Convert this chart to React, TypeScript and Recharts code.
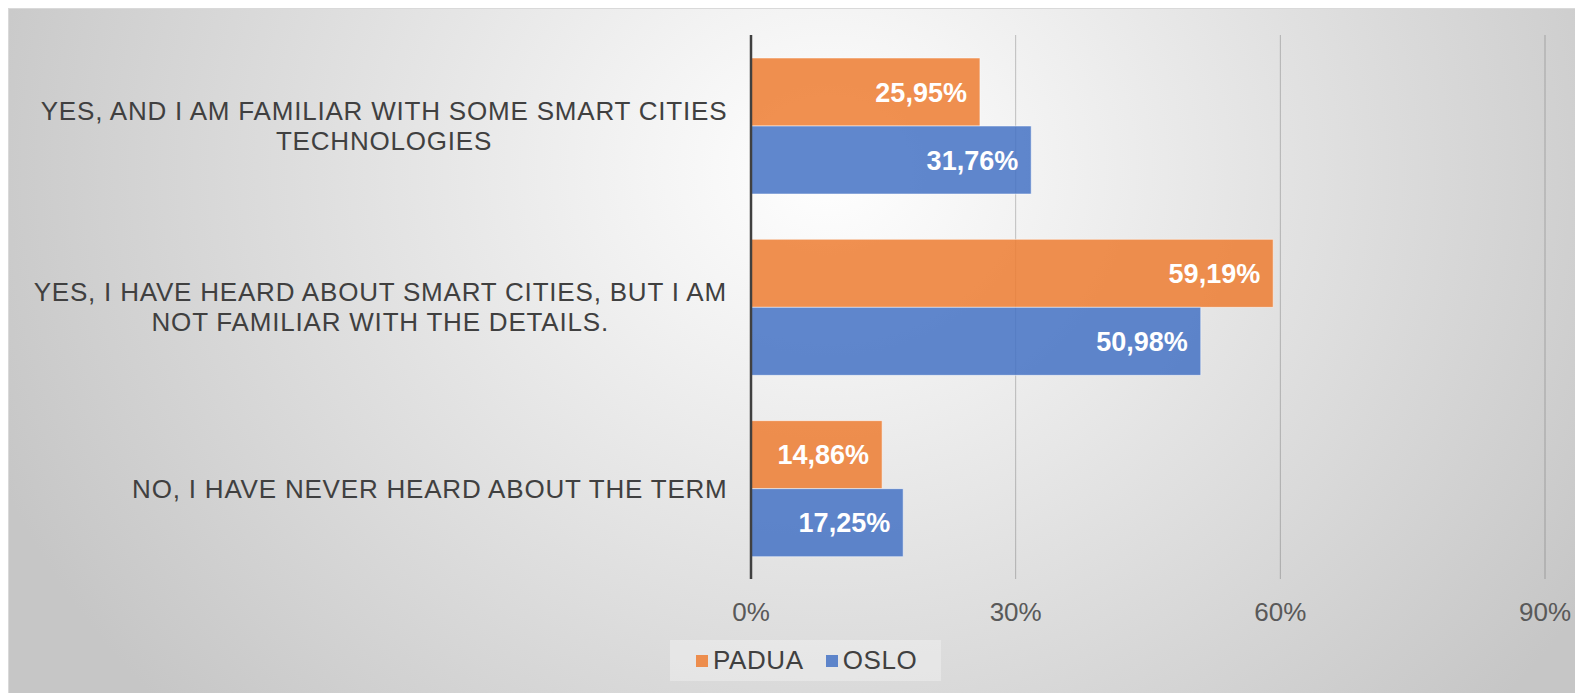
import React from "react";
import { Bar, BarChart, CartesianGrid, LabelList, Legend, XAxis, YAxis } from "recharts";

const categories = [
  "YES, AND I AM FAMILIAR WITH SOME SMART CITIES\nTECHNOLOGIES",
  "YES, I HAVE HEARD ABOUT SMART CITIES, BUT I AM\nNOT FAMILIAR WITH THE DETAILS.",
  "NO, I HAVE NEVER HEARD ABOUT THE TERM",
];
const paduaValues = [25.95, 59.19, 14.86];
const osloValues = [31.76, 50.98, 17.25];
const seriesNames = ["PADUA", "OSLO"];
const xTicks = [0, 30, 60, 90];

const data = categories.map((name, i) => ({
  name,
  padua: paduaValues[i],
  oslo: osloValues[i],
}));

const FONT = '"Liberation Sans", Arial, sans-serif';
const ORANGE = "#ED7D31";
const BLUE = "#4472C4";
const SPACING = 0.8;

let ctx: CanvasRenderingContext2D | null = null;
function textWidth(s: string, size: number): number {
  if (!ctx) ctx = document.createElement("canvas").getContext("2d");
  if (!ctx) return s.length * size * 0.6;
  ctx.font = `${size}px ${FONT}`;
  return ctx.measureText(s).width + s.length * SPACING;
}

function CategoryTick(props: any) {
  const { x, y, payload } = props;
  const lines: string[] = String(payload.value).split("\n");
  const size = 26;
  const maxW = Math.max(...lines.map((l) => textWidth(l, size)));
  const cx = x - maxW / 2;
  const pitch = 30;
  const start = y - ((lines.length - 1) * pitch) / 2;
  return (
    <g>
      {lines.map((l, i) => (
        <text
          key={i}
          x={cx}
          y={start + i * pitch}
          dy="0.36em"
          textAnchor="middle"
          fill="#404040"
          fontSize={size}
          fontFamily={FONT}
          letterSpacing={SPACING}
        >
          {l}
        </text>
      ))}
    </g>
  );
}

function LegendBox(props: any) {
  const items = [...(props.payload || [])].sort(
    (a: any, b: any) => seriesNames.indexOf(a.value) - seriesNames.indexOf(b.value)
  );
  return (
    <div
      style={{
        display: "flex",
        alignItems: "center",
        height: 41,
        paddingLeft: 26,
        background: "rgba(255,255,255,0.3)",
        fontFamily: FONT,
        fontSize: 26,
        letterSpacing: 0.6,
        color: "#404040",
        boxSizing: "border-box",
      }}
    >
      {items.map((it: any, i: number) => (
        <span key={i} style={{ display: "flex", alignItems: "center", marginRight: 22 }}>
          <span
            style={{
              width: 12,
              height: 12,
              background: it.color,
              opacity: 0.85,
              marginRight: 5,
              display: "inline-block",
            }}
          />
          {it.value}
        </span>
      ))}
    </div>
  );
}

const pct = (v: any) => `${Number(v).toFixed(2).replace(".", ",")}%`;

export default function App() {
  return (
    <div
      style={{
        position: "absolute",
        left: 8,
        top: 8,
        width: 1567,
        height: 685,
        boxSizing: "border-box",
        borderTop: "1px solid #d9d9d9",
        borderLeft: "1px solid #d9d9d9",
        overflow: "hidden",
        background:
          "radial-gradient(ellipse 900px 800px at 820px 160px, #ffffff 0%, #f4f4f4 20%, #c6c6c6 100%)",
      }}
    >
      <BarChart
        width={1566}
        height={684}
        data={data}
        layout="vertical"
        margin={{ top: 26, right: 30, bottom: 64, left: 0 }}
        barGap={0}
        barSize={68}
      >
        <CartesianGrid horizontal={false} stroke="#000" strokeOpacity={0.22} />
        <XAxis
          type="number"
          domain={[0, 90]}
          ticks={xTicks}
          tickFormatter={(v) => `${v}%`}
          axisLine={false}
          tickLine={false}
          tickSize={0}
          tickMargin={24}
          height={50}
          tick={{ fill: "#595959", fontSize: 26, fontFamily: FONT }}
        />
        <YAxis
          type="category"
          dataKey="name"
          width={742}
          tickLine={false}
          tickSize={0}
          tickMargin={22}
          axisLine={{ stroke: "#404040", strokeWidth: 2.5 }}
          tick={<CategoryTick />}
          interval={0}
        />
        <Legend
          layout="horizontal"
          verticalAlign="middle"
          align="center"
          content={<LegendBox />}
          wrapperStyle={{ position: "absolute", left: 661, top: 631, width: 271, height: 41 }}
        />
        <Bar
          dataKey="padua"
          name={seriesNames[0]}
          fill={ORANGE}
          fillOpacity={0.85}
          stroke="#fff"
          strokeOpacity={0.5}
          isAnimationActive={false}
        >
          <LabelList
            dataKey="padua"
            position="insideRight"
            offset={13}
            formatter={pct}
            fill="#fff"
            fontSize={27}
            fontWeight="bold"
            fontFamily={FONT}
          />
        </Bar>
        <Bar
          dataKey="oslo"
          name={seriesNames[1]}
          fill={BLUE}
          fillOpacity={0.85}
          stroke="#fff"
          strokeOpacity={0.5}
          isAnimationActive={false}
        >
          <LabelList
            dataKey="oslo"
            position="insideRight"
            offset={13}
            formatter={pct}
            fill="#fff"
            fontSize={27}
            fontWeight="bold"
            fontFamily={FONT}
          />
        </Bar>
      </BarChart>
    </div>
  );
}
